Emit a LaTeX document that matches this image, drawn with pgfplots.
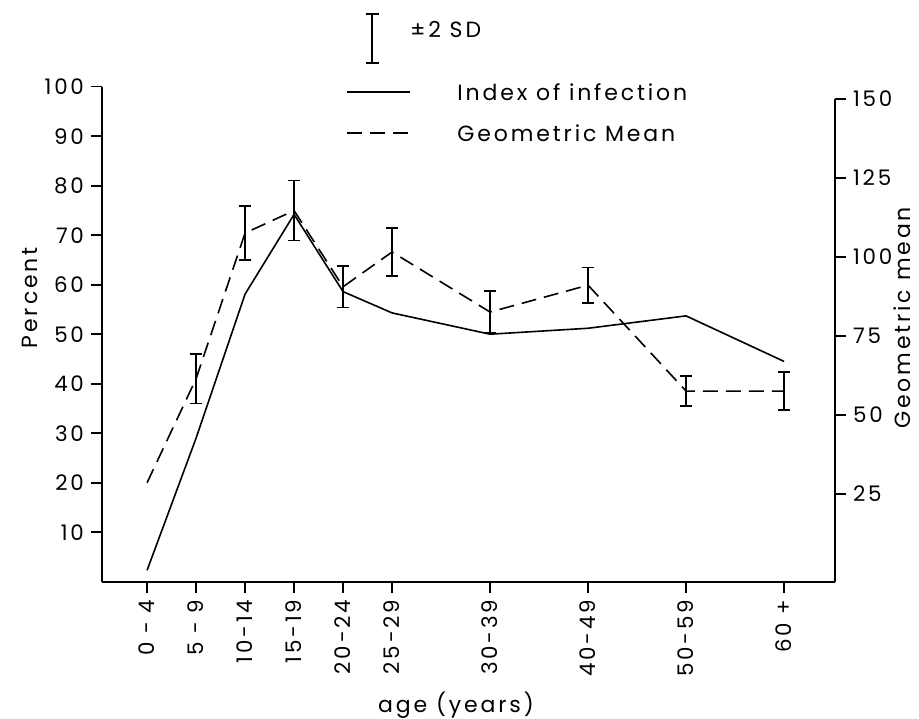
\documentclass[border=0pt]{standalone}
\usepackage{fontspec}
\setmainfont{Poppins}[LetterSpace=13]
\usepackage{pgfplots}
\pgfplotsset{compat=1.18}

% index of infection, percent (left axis)
\pgfplotstableread{
x y
0 2.3
5 29
10 58.1
15 74.2
20 58.6
25 54.3
35 50.0
45 51.2
55 53.7
65 44.5
}\infection

% geometric mean (right axis) with 2 SD
\pgfplotstableread{
x y e
0 28.5 0
5 61.4 7.8
10 107.5 8.5
15 114.6 9.5
20 90.5 6.6
25 101.5 7.6
35 82.5 6.6
45 91.0 5.6
55 57.5 4.7
65 57.5 6.0
}\geomean

\begin{document}
\begin{tikzpicture}[font=\fontsize{11}{13}\selectfont]
\useasboundingbox (-51pt,-68.15pt) rectangle (408.5pt,290.85pt);

\begin{axis}[
  scale only axis, width=366.5pt, height=247.5pt,
  xmin=-4.6, xmax=70.2, ymin=0, ymax=100,
  axis x line*=bottom, axis y line*=left,
  axis line style={line width=1pt, -},
  tick align=outside, major tick length=5.5pt,
  tick style={line width=0.8pt, black},
  xtick={0,5,10,15,20,25,35,45,55,65},
  xticklabels={0 - 4, 5 - 9, 10-14, 15-19, 20-24, 25-29, 30-39, 40-49, 50-59, 60 +},
  xticklabel style={rotate=90, anchor=east},
  ytick={10,20,...,100},
  /pgf/number format/assume math mode=true,
  ticklabel style={font=\fontsize{10.7}{12}\selectfont},
]
\addplot[line width=0.8pt, black] table[x=x, y=y] {\infection};
\end{axis}

\begin{axis}[
  scale only axis, width=366.5pt, height=247.5pt,
  xmin=-4.6, xmax=70.2, ymin=-2.82, ymax=153.8,
  axis x line=none, axis y line*=right,
  axis line style={line width=1pt, -},
  y axis line style={shorten >=6pt},
  tick align=outside, major tick length=5.5pt,
  tick style={line width=0.8pt, black},
  ytick={25,50,...,150},
  /pgf/number format/assume math mode=true,
  ticklabel style={font=\fontsize{10.7}{12}\selectfont},
]
% first segment (0-4 has no bar)
\addplot[line width=0.8pt, black, dash pattern=on 7.5pt off 4pt,
  skip coords between index={2}{10}] table[x=x, y=y] {\geomean};
% rest of the line with its bars
\addplot[line width=0.8pt, black, dash pattern=on 7.5pt off 4pt,
  skip coords between index={0}{1},
  error bars/.cd, y dir=both, y explicit,
  error bar style={solid, line width=0.8pt},
  error mark options={rotate=90, solid, black, line width=0.8pt, mark size=3.2pt}]
  table[x=x, y=y, y error=e] {\geomean};
\end{axis}

% axis titles
\node[rotate=90] at (-36pt,142pt) {Percent};
\node[rotate=90] at (400pt,131.9pt) {Geometric mean};
\node at (177pt,-61.7pt) {age (years)};

% key
\draw[line width=0.8pt] (135pt,259.4pt) -- (135pt,283.9pt)
  (131.75pt,259.4pt) -- (138.25pt,259.4pt)
  (131.75pt,283.9pt) -- (138.25pt,283.9pt);
\node[anchor=west, inner sep=0pt] at (154pt,275.9pt) {±2 SD};
\draw[line width=0.8pt] (122.5pt,244.9pt) -- (154pt,244.9pt);
\node[anchor=west, inner sep=0pt] at (177.5pt,244.9pt) {Index of infection};
\draw[line width=0.8pt, dash pattern=on 7.5pt off 4pt] (122.5pt,224.3pt) -- (154pt,224.3pt);
\node[anchor=west, inner sep=0pt] at (177.5pt,224.3pt) {Geometric Mean};
\end{tikzpicture}
\end{document}
